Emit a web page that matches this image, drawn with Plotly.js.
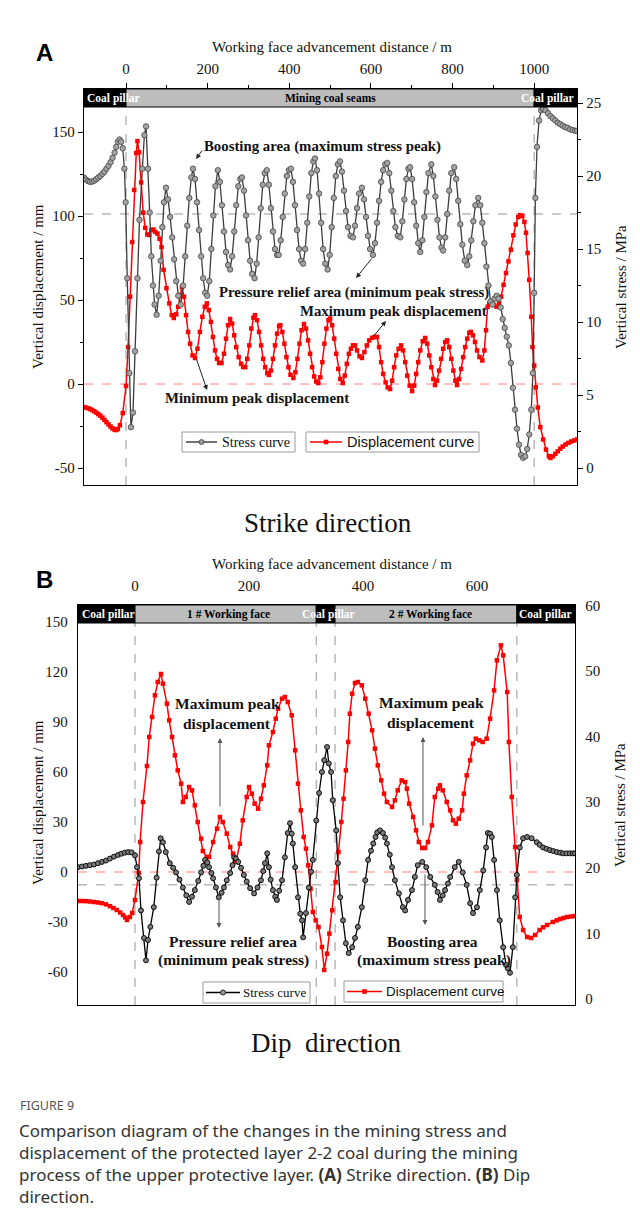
<!DOCTYPE html>
<html>
<head>
<meta charset="utf-8">
<script src="https://cdn.plot.ly/plotly-3.0.1.min.js"></script>
<style>
html,body{margin:0;padding:0;background:#fff;}
#chart{width:640px;height:1221px;}
</style>
</head>
<body>
<div id="chart"></div>
<script>
// ---------------- DATA ----------------
// Panel A (strike direction): [distance m, vertical stress MPa]
const strikeStress = [
[-103,19.9],[-98,19.75],[-93,19.65],[-88,19.6],[-83,19.62],[-78,19.68],[-73,19.78],[-68,19.9],[-63,20.0],[-58,20.15],[-53,20.3],[-48,20.5],[-43,20.7],[-38,20.95],[-33,21.25],[-28,21.6],[-24,22.0],[-20,22.35],[-16,22.5],[-12,22.35],[-8,21.9],[-4,20.5],[-1,18.2],
[3,13.0],[8,6.5],[12,2.8],[17,3.8],[22,8.0],[28,13.0],[33,17.0],[40,20.5],[45,22.8],[49,23.4],[54,20.5],[58,17.5],[62,14.5],[66,12.5],[70,11.2],[75,10.5],[80,11.8],[85,14.2],[89,16.5],[93,18.2],[98,19.2],[103,18.4],[108,17.2],[113,15.8],[118,14.3],[123,12.8],[128,11.8],[134,11.2],[140,12.5],[145,14.5],[150,16.6],[155,18.5],[160,19.9],[164,20.5],[169,19.8],[174,18.2],[179,16.3],[184,14.5],[189,13.0],[194,12.0],[199,11.8],[204,12.8],[209,15.0],[214,17.3],[219,19.3],[225,20.4],[230,19.6],[235,18.0],[240,16.2],[245,14.8],[250,13.9],[255,13.6],[260,14.5],[265,16.2],[270,18.0],[275,19.3],[280,19.8],[284,19.9],[289,19.0],[294,17.3],[299,15.6],[304,14.2],[309,13.3],[315,13.0],[320,14.0],[325,15.8],[330,17.8],[335,19.4],[340,20.2],[345,20.4],[350,19.4],[355,17.8],[360,16.2],[365,15.0],[370,14.6],[374,14.6],[379,15.6],[384,17.2],[389,18.8],[394,20.0],[399,20.4],[404,20.5],[409,19.6],[414,18.0],[419,16.3],[424,15.0],[429,14.2],[434,14.0],[439,15.0],[444,16.8],[449,18.6],[454,20.2],[459,21.0],[463,21.2],[468,20.4],[473,18.8],[478,16.8],[483,15.0],[488,14.0],[494,13.6],[499,14.6],[504,16.5],[509,18.5],[514,20.0],[519,20.8],[524,21.0],[529,20.3],[534,19.0],[539,17.6],[544,16.5],[550,15.9],[556,15.8],[561,16.6],[566,17.8],[571,18.8],[578,19.2],[583,18.4],[588,17.2],[593,15.9],[598,15.0],[605,14.6],[610,15.4],[615,16.8],[620,18.3],[625,19.6],[630,20.4],[635,20.8],[640,20.9],[645,20.2],[650,19.0],[655,17.6],[660,16.5],[666,15.9],[672,15.8],[677,16.9],[682,18.4],[687,19.8],[692,20.5],[696,20.6],[701,19.8],[706,18.2],[711,16.6],[716,15.4],[721,14.8],[726,15.6],[731,17.2],[736,18.9],[741,20.2],[748,20.8],[753,20.0],[758,18.6],[763,17.0],[768,15.8],[773,15.1],[777,14.9],[782,15.8],[787,17.4],[792,19.0],[797,20.2],[804,20.6],[809,19.8],[814,18.3],[819,16.7],[824,15.3],[830,14.2],[836,13.9],[841,14.5],[846,15.6],[851,16.9],[856,18.0],[863,18.5],[868,18.0],[873,16.8],[878,15.4],[883,13.8],[888,12.5],[893,11.4],[898,11.2],[903,11.6],[908,11.8],[913,11.6],[918,11.0],[923,10.2],[928,9.6],[933,9.0],[938,8.4],[943,7.2],[948,5.5],[953,4.0],[958,2.7],[963,1.6],[968,0.9],[973,0.7],[978,0.8],[983,1.3],[988,2.3],[993,4.0],[997,6.5],[1000,12.0],[1003,18.5],[1007,22.0],[1012,23.8],[1017,24.5],[1022,24.6],[1028,24.5],[1034,24.3],[1040,24.1],[1046,23.95],[1052,23.8],[1058,23.65],[1064,23.55],[1070,23.45],[1076,23.35],[1082,23.3],[1088,23.2],[1094,23.15],[1100,23.1],[1105,23.1]
];
// Panel A: [distance m, vertical displacement mm]
const strikeDisp = [
[-103,-13.7],[-98,-14.0],[-93,-14.4],[-88,-14.9],[-83,-15.5],[-78,-16.2],[-73,-17.0],[-68,-17.9],[-63,-18.9],[-58,-20.0],[-53,-21.3],[-48,-22.7],[-43,-24.0],[-38,-25.3],[-33,-26.4],[-28,-27.2],[-24,-27.4],[-20,-26.8],[-15,-24.5],[-8,-17.3],[0,-1.2],[5,22],[10,52],[15,84.5],[20,115.5],[25,137.5],[28,144.6],[32,138],[37,120],[42,102],[47,93],[52,89],[57,88.7],[62,91.5],[67,92],[72,90.5],[77,89.5],[82,86.5],[87,81.5],[92,68],[99,57],[106,48],[112,41],[117,39.3],[123,41.5],[128,46],[133,53],[137,57.7],[142,52],[147,41],[152,31],[157,24],[163,17],[169,15.5],[175,21],[181,31],[187,40],[193,46],[198,48],[203,44],[208,37],[213,28],[218,20],[223,15],[228,12.5],[234,12.5],[240,18],[245,27],[250,35],[255,38.7],[260,36],[265,29],[270,22],[276,16],[282,12],[287,10.2],[292,10],[297,15],[302,23],[307,33],[312,39.5],[316,41],[321,38],[326,31],[331,23],[336,15],[341,10],[346,6.5],[350,5.4],[355,8],[360,15],[365,23],[370,30],[375,34.5],[378,35],[383,31],[388,24],[393,16],[398,10],[403,5.5],[410,3.6],[415,7],[420,15],[425,24],[430,32],[436,35.7],[441,33],[446,26],[451,18],[456,10],[461,4.5],[466,1.5],[471,0.6],[476,4],[481,13],[486,24],[491,33],[496,38],[500,39],[505,35],[510,27],[515,18],[520,9],[525,3],[531,0.6],[536,5],[541,12],[546,18],[551,21],[556,23],[561,23],[566,20],[572,16.5],[578,15.5],[584,19],[590,23],[596,26],[603,27.5],[609,28],[615,28],[620,22],[625,13],[630,6],[636,1],[641,-2],[647,-3],[652,2],[657,10],[662,17],[668,21],[674,23],[679,20],[684,13],[689,5],[695,-1],[701,-4.2],[706,-1],[711,6],[716,13],[721,20],[727,25.5],[733,27.4],[738,24],[743,17],[748,10],[753,3],[757,-0.6],[762,2],[767,8],[772,15],[777,21],[782,25],[787,26],[792,22],[797,15],[802,8],[807,2],[811,-0.6],[816,3],[821,9],[826,16],[831,22],[836,27],[841,30.5],[845,31],[850,29],[855,25],[860,20],[866,16],[873,14],[878,20],[882,32],[886,46],[890,48],[896,48],[902,47],[908,46],[914,48],[919,52],[925,59],[931,66],[937,73],[943,80],[949,88.5],[955,95],[961,99.4],[966,100.5],[971,100],[976,96.5],[980,90],[984,78],[988,62],[993,40],[996,22],[1000,11],[1004,-2],[1009,-14],[1015,-25.6],[1022,-33],[1029,-39],[1036,-43],[1040,-44],[1046,-43],[1052,-41.5],[1058,-40],[1064,-38.5],[1070,-37.2],[1077,-36],[1084,-35],[1091,-34.2],[1098,-33.6],[1105,-33]
];
// Panel B (dip direction): [distance m, vertical stress MPa]
const dipStress = [
[-100,20.1],[-93,20.2],[-86,20.3],[-79,20.4],[-72,20.5],[-65,20.7],[-58,20.9],[-51,21.1],[-44,21.4],[-37,21.7],[-30,21.95],[-24,22.15],[-18,22.3],[-12,22.4],[-6,22.35],[0,21.9],[3.5,20.1],[7,18.4],[10.5,13.5],[15.8,9.3],[19.3,5.9],[22.8,9.0],[27,11],[33,14],[38,18.5],[42,22.5],[45,24.5],[49,23.9],[54,22.4],[61,20.7],[67,20],[72,19.3],[78,18.2],[84,17.0],[90,15.8],[95,14.8],[100,15.6],[105,16.6],[111,18],[116,19.3],[120,20.3],[123,21.2],[127,20.8],[130,20.1],[134,19.2],[137,18.4],[142,17],[147,15.5],[152,16.2],[156,17.0],[161,18.1],[167,19.2],[171,20.4],[174,21.6],[177,21.4],[181,20.9],[186,20],[191,18.9],[196,17.9],[202,16.9],[209,16.1],[215,17],[221,18.1],[225,19.5],[228,20.7],[232,22.2],[235,20.1],[238,18.2],[242,16.6],[246,15.6],[249,15.1],[253,16.5],[258,18.1],[263,21.6],[268,25.3],[272,26.8],[275,25.2],[277,23.7],[281,20.1],[286,15.5],[290,13],[293,12.0],[295,9.4],[300,13.1],[305,17.0],[309,19.4],[312,21.2],[318,27.2],[323,31.4],[328,34.6],[332,36.4],[337,38.4],[340,35.9],[344,34.6],[347,30.3],[353,25.7],[356,20.7],[360,15.5],[365,12.0],[370,8.5],[375,7.0],[381,7.9],[386,9.3],[391,11.0],[398,14.0],[404,18.1],[409,21.2],[414,22.6],[418,23.7],[422,24.7],[425,25.4],[430,25.7],[435,25.3],[439,24.6],[442,23.7],[447,22],[451,20.1],[456,18.1],[463,16.1],[470,14.0],[474,13.5],[479,15.1],[486,16.6],[491,18.6],[496,20.4],[504,20.9],[511,20.1],[518,18.6],[526,17.4],[531,16.3],[535,15.1],[540,15.8],[544,16.6],[549,17.6],[553,18.6],[561,20.1],[568,20.9],[575,19.3],[582,17.4],[588,14.6],[593,13.1],[600,14.0],[605,16.6],[611,19.6],[616,23.1],[619,25.3],[623,25.2],[626,24.7],[630,21.2],[635,16.6],[640,12.0],[646,7.9],[651,5.2],[654,4.7],[658,4.0],[663,7.9],[667,15.5],[670,18.9],[675,23.1],[681,24.5],[688,24.7],[696,24.5],[705,23.9],[710,23.5],[716,23.1],[722,22.9],[728,22.7],[734,22.55],[740,22.4],[746,22.3],[751,22.2],[757,22.2],[763,22.2],[768,22.2],[772,22.2]
];
// Panel B: [distance m, vertical displacement mm]
const dipDisp = [
[-100,-17.4],[-93,-17.4],[-86,-17.5],[-79,-17.7],[-72,-18.0],[-65,-18.3],[-58,-18.7],[-51,-19.4],[-44,-20.5],[-38,-21.6],[-32,-22.8],[-26,-24.3],[-21,-25.8],[-17,-27.3],[-14,-28.8],[-9,-27.0],[-5,-24.6],[0,-16.8],[6.5,-0.6],[9,18],[14,42],[21,63.6],[25,81],[30,93],[35,106],[40,114],[45.6,118.8],[49,113],[56,101],[60,91],[65,81],[70,70],[75,61],[81,53],[84,42],[89,45],[95,51],[100,49],[105,40],[110,30],[116,20],[119,12.6],[126,9],[130,9],[137,18],[144,26],[149,33],[154,30],[161,23],[167,15],[172,11],[177,6],[184,17],[189,31],[196,45],[200,51],[205,47],[210,41],[216,38],[221,44],[226,52],[232,64],[235,76],[242,84],[247,92],[251,98],[258,104],[263,105],[268,102],[275,94],[281,73],[286,53],[291,37],[296,21],[300,14],[304,4],[308,-10],[312,-24],[317,-29],[322,-33],[328,-45],[332,-58.8],[337,-49],[341,-37],[346,-23],[352,-6],[357,12],[362,30],[366,44],[370,61],[374,78],[377,95],[381,107],[386,113.4],[391,114],[398,112],[404,104],[410,95],[416,85],[421,74],[426,64],[432,55],[437,47],[442,42],[451,39],[456,43],[461,49],[468,55],[474,54],[477,50],[481,41],[488,33],[493,25],[498,18],[504,14.4],[509,14.4],[514,18],[521,28],[526,45],[532,50],[535,52],[540,49],[547,42],[553,37],[558,31],[563,29],[568,32],[574,37],[577,47],[582,58],[588,67],[593,77],[598,80],[604,79],[610,78],[617,80],[623,92],[630,109],[635,127],[642,136],[646,130],[653,108],[656,78],[661,45],[667,15],[670,-4.8],[675,-27],[681,-34.8],[688,-39],[695,-39.6],[702,-37.8],[710,-34.8],[716,-33.2],[723,-31.8],[733,-30],[740,-29],[746,-28.2],[752,-27.6],[758,-27],[765,-26.7],[772,-26.4]
];
// Zone boundaries along the working face (m)
const strikeZones = [[-103,0,'pillar'],[0,1000,'seam'],[1000,1105,'pillar']];
const dipZones = [[-100,0,'pillar'],[0,318,'seam'],[318,351,'pillar'],[351,670,'seam'],[670,772,'pillar']];
const strikeBoundaries = [0,1000];
const dipBoundaries = [0,318,351,670];
const originalStress = 17.4;   // MPa, dashed reference
const strikeTicksX = [0,200,400,600,800,1000];
const dipTicksX = [0,200,400,600];
const strikeDispTicks = [-50,0,50,100,150];
const strikeStressTicks = [0,5,10,15,20,25];
const dipDispTicks = [-60,-30,0,30,60,90,120,150];
const dipStressTicks = [0,10,20,30,40,50,60];

// ---------------- LAYOUT HELPERS ----------------
const W=640,H=1221;
const px = v => v/W;
const py = v => 1 - v/H;
const SERIF = '"Liberation Serif","Times New Roman",serif';
const SANS = '"Liberation Sans",Arial,sans-serif';
const lbl = v => String(v);   // plain hyphen-minus labels

const A = {l:84,r:577,t:89,b:485,bandB:107};
const B = {l:78,r:575,t:605,b:1005,bandB:623};

function col(a,i){return a.map(p=>p[i]);}

const traces = [
 {x:col(strikeDisp,0),y:col(strikeDisp,1),xaxis:'x',yaxis:'y',mode:'lines+markers',
  line:{color:'#ff0000',width:1.5},marker:{symbol:'square',size:4.5,color:'#ff0000'},showlegend:false,hoverinfo:'skip'},
 {x:col(strikeStress,0),y:col(strikeStress,1),xaxis:'x',yaxis:'y2',mode:'lines+markers',
  line:{color:'#3d3d3d',width:1.3},marker:{symbol:'circle',size:5.5,color:'#a3a3a3',line:{color:'#444',width:0.8}},showlegend:false,hoverinfo:'skip'},
 {x:col(dipDisp,0),y:col(dipDisp,1),xaxis:'x3',yaxis:'y3',mode:'lines+markers',
  line:{color:'#ff0000',width:1.5},marker:{symbol:'square',size:4.5,color:'#ff0000'},showlegend:false,hoverinfo:'skip'},
 {x:col(dipStress,0),y:col(dipStress,1),xaxis:'x3',yaxis:'y4',mode:'lines+markers',
  line:{color:'#000',width:1.3},marker:{symbol:'circle',size:5,color:'#7a7a7a',line:{color:'#000',width:0.9}},showlegend:false,hoverinfo:'skip'}
];

const tickFont = {family:SERIF,size:15,color:'#111'};
const baseAxis = {showgrid:false,zeroline:false,showline:true,linecolor:'#000',linewidth:1.3,tickfont:tickFont,fixedrange:true,tickmode:'array'};

const layout = {
 width:W,height:H,margin:{l:0,r:0,t:0,b:0},paper_bgcolor:'#fff',plot_bgcolor:'rgba(0,0,0,0)',showlegend:false,
 xaxis:Object.assign({},baseAxis,{domain:[px(A.l),px(A.r)],range:[-103,1105],side:'top',anchor:'y',mirror:true,
   tickvals:strikeTicksX,ticktext:strikeTicksX.map(lbl),ticks:'outside',ticklen:5,tickwidth:1,tickcolor:'#000',ticklabelstandoff:3,
   minor:{tickvals:[100,300,500,700,900],ticks:'outside',ticklen:3,tickcolor:'#000'}}),
 yaxis:Object.assign({},baseAxis,{domain:[py(A.b),py(A.t)],range:[-60.1,175.6],anchor:'x',
   tickvals:strikeDispTicks,ticktext:strikeDispTicks.map(lbl),ticks:'outside',ticklen:5,tickcolor:'#000',
   minor:{tickvals:[-25,25,75,125],ticks:'outside',ticklen:3,tickcolor:'#000'}}),
 yaxis2:Object.assign({},baseAxis,{overlaying:'y',side:'right',anchor:'x',range:[-1.16,25.96],
   tickvals:strikeStressTicks,ticktext:strikeStressTicks.map(lbl),ticks:'outside',ticklen:5,tickcolor:'#000',
   minor:{tickvals:[2.5,7.5,12.5,17.5,22.5],ticks:'outside',ticklen:3,tickcolor:'#000'}}),
 xaxis3:Object.assign({},baseAxis,{domain:[px(B.l),px(B.r)],range:[-100,772],side:'top',anchor:'y3',mirror:true,
   tickvals:dipTicksX,ticktext:dipTicksX.map(lbl),ticks:'outside',ticklen:5,tickcolor:'rgba(0,0,0,0)',ticklabelstandoff:2}),
 yaxis3:Object.assign({},baseAxis,{domain:[py(B.b),py(B.t)],range:[-79.8,160.2],anchor:'x3',
   tickvals:dipDispTicks,ticktext:dipDispTicks.map(lbl),ticks:'outside',ticklen:6,tickcolor:'rgba(0,0,0,0)'}),
 yaxis4:Object.assign({},baseAxis,{overlaying:'y3',side:'right',anchor:'x3',range:[-0.91,60.05],
   tickvals:dipStressTicks,ticktext:dipStressTicks.map(lbl),ticks:'outside',ticklen:6,tickcolor:'rgba(0,0,0,0)'}),
 shapes:[],annotations:[]
};

const S = layout.shapes, N = layout.annotations;

// zone bands
function band(zones,xref,top,bot){
 zones.forEach(z=>{
  S.push({type:'rect',xref:xref,yref:'paper',x0:z[0],x1:z[1],y0:py(bot),y1:py(top),
   fillcolor:z[2]==='pillar'?'#000':'#bdbdbd',line:{color:'#000',width:1},layer:'above'});
 });
}
band(strikeZones,'x',A.t,A.bandB);
band(dipZones,'x3',B.t,B.bandB);

// dashed boundaries
strikeBoundaries.forEach(b=>S.push({type:'line',xref:'x',yref:'paper',x0:b,x1:b,y0:py(A.b),y1:py(A.bandB),line:{color:'#888',width:0.9,dash:'dash'},layer:'below'}));
dipBoundaries.forEach(b=>S.push({type:'line',xref:'x3',yref:'paper',x0:b,x1:b,y0:py(B.b),y1:py(B.bandB),line:{color:'#888',width:0.9,dash:'dash'},layer:'below'}));
S.push({type:'line',xref:'x',yref:'y',x0:-103,x1:1105,y0:0,y1:0,line:{color:'#ff7070',width:0.9,dash:'dash'},layer:'below'});
S.push({type:'line',xref:'x',yref:'y2',x0:-103,x1:1105,y0:originalStress,y1:originalStress,line:{color:'#8a8a8a',width:0.9,dash:'dash'},layer:'below'});
S.push({type:'line',xref:'x3',yref:'y3',x0:-100,x1:772,y0:0,y1:0,line:{color:'#ff7070',width:0.9,dash:'dash'},layer:'below'});
S.push({type:'line',xref:'x3',yref:'y4',x0:-100,x1:772,y0:originalStress,y1:originalStress,line:{color:'#8a8a8a',width:0.9,dash:'dash'},layer:'below'});

// text helper (pixel positions)
function T(text,x,y,opt){
 N.push(Object.assign({text:text,xref:'paper',yref:'paper',x:px(x),y:py(y),showarrow:false,
  xanchor:'center',yanchor:'middle',font:{family:SERIF,size:15,color:'#111'}},opt||{}));
}
const bandFont = (c)=>({family:SERIF,size:11.5,color:c});
// band labels A
T('<b>Coal pillar</b>',85,98,{xanchor:'left',font:bandFont('#fff')});
T('<b>Mining coal seams</b>',330,98,{font:bandFont('#000')});
T('<b>Coal pillar</b>',576,98,{xanchor:'right',font:bandFont('#fff')});
// band labels B
T('<b>Coal pillar</b>',80,614,{xanchor:'left',font:bandFont('#fff')});
T('<b>1 # Working face</b>',228,614,{font:bandFont('#000')});
T('<b>Coal pillar</b>',328,614,{font:bandFont('#fff')});
T('<b>2 # Working face</b>',430,614,{font:bandFont('#000')});
T('<b>Coal pillar</b>',574,614,{xanchor:'right',font:bandFont('#fff')});

// panel letters & titles
T('<b>A</b>',44,52,{font:{family:SANS,size:24,color:'#000'}});
T('<b>B</b>',44,580,{font:{family:SANS,size:24,color:'#000'}});
T('Working face advancement distance / m',332,47);
T('Working face advancement distance / m',332,564);
T('Vertical displacement / mm',38,287,{textangle:-90});
T('Vertical stress / MPa',621,287,{textangle:-90});
T('Vertical displacement / mm',38,803,{textangle:-90});
T('Vertical stress / MPa',620,805,{textangle:-90});
T('Strike direction',328,523,{font:{family:SERIF,size:27,color:'#111'}});
T('Dip\u00a0 direction',326,1043,{font:{family:SERIF,size:27,color:'#111'}});

// in-plot labels A
const lab = {family:SERIF,size:14.8,color:'#111'};
T('<b>Boosting area (maximum stress peak)</b>',322,146,{font:lab});
T('<b>Pressure relief area (minimum peak stress)</b>',354,292,{font:lab});
T('<b>Maximum peak displacement</b>',393,311,{font:lab});
T('<b>Minimum peak displacement</b>',257,398,{font:lab});
// in-plot labels B
const labB = {family:SERIF,size:15.5,color:'#111'};
T('<b>Maximum peak</b>',227,703,{font:labB});
T('<b>displacement</b>',227,723,{font:labB});
T('<b>Maximum peak</b>',431,702,{font:labB});
T('<b>displacement</b>',431,722,{font:labB});
T('<b>Pressure relief area</b>',233,941,{font:labB});
T('<b>(minimum peak stress)</b>',233,960,{font:labB});
T('<b>Boosting area</b>',432,941,{font:labB});
T('<b>(maximum stress peak)</b>',434,960,{font:labB});

// arrows (data coordinates)
function arrow(xr,yr,tx,ty,hx,hy,c){
 N.push({text:'',xref:xr,yref:yr,axref:xr,ayref:yr,x:hx,y:hy,ax:tx,ay:ty,showarrow:true,
  arrowhead:2,arrowsize:1,arrowwidth:1,arrowcolor:c||'#222',standoff:0,startstandoff:0});
}
arrow('x','y',188.7,139.9,171.6,133.9);
arrow('x','y',605,75.6,563.7,63.1);
arrow('x','y',603,27.4,637,37.5);
arrow('x','y',171.6,15.5,198.5,-3.6);
arrow('x3','y3',149.1,38.4,149.1,80.4,'#555');
arrow('x3','y3',505.3,27,505.3,81,'#555');
arrow('x3','y3',147.4,-15,147.4,-33.6,'#555');
arrow('x3','y3',508.8,-0.6,508.8,-31.8,'#555');

// legends (manual boxes)
function legend(x0,x1,y0,y1,lx0,lx1,sym,color,text,font,tx){
 S.push({type:'rect',xref:'paper',yref:'paper',x0:px(x0),x1:px(x1),y0:py(y1),y1:py(y0),line:{color:'#9a9a9a',width:1},fillcolor:'#fff',layer:'above'});
 const ym=(y0+y1)/2, xm=(lx0+lx1)/2;
 S.push({type:'line',xref:'paper',yref:'paper',x0:px(lx0),x1:px(lx1),y0:py(ym),y1:py(ym),line:{color:color,width:1.5},layer:'above'});
 if(sym==='circle'){
  S.push({type:'circle',xref:'paper',yref:'paper',x0:px(xm-2.5),x1:px(xm+2.5),y0:py(ym+2.5),y1:py(ym-2.5),fillcolor:'#999',line:{color:color,width:0.8},layer:'above'});
 } else {
  S.push({type:'rect',xref:'paper',yref:'paper',x0:px(xm-2.3),x1:px(xm+2.3),y0:py(ym+2.3),y1:py(ym-2.3),fillcolor:color,line:{width:0},layer:'above'});
 }
 T(text,tx,ym,{xanchor:'left',font:font});
}
legend(182,295,432,452,186,217,'circle','#444','Stress curve',{family:SERIF,size:14,color:'#111'},220);
legend(306,479,432,452,310,342,'square','#ff0000','Displacement curve',{family:SANS,size:14.5,color:'#111'},345);
legend(203,310,982,1003,206,240,'circle','#000','Stress curve',{family:SERIF,size:13,color:'#111'},241);
legend(344,503,981,1002,347,382,'square','#ff0000','Displacement curve',{family:SANS,size:13.5,color:'#111'},384);

// caption
const capFont = {family:'"Noto Sans","Open Sans",sans-serif',size:17,color:'#333'};
T('FIGURE 9',18,1105,{xanchor:'left',font:{family:'"Noto Sans",sans-serif',size:12.5,color:'#555'}});
T('Comparison diagram of the changes in the mining stress and',17,1130,{xanchor:'left',font:capFont});
T('displacement of the protected layer 2-2 coal during the mining',17,1152,{xanchor:'left',font:capFont});
T('process of the upper protective layer. <b>(A)</b> Strike direction. <b>(B)</b> Dip',17,1174,{xanchor:'left',font:capFont});
T('direction.',17,1196,{xanchor:'left',font:capFont});

Plotly.newPlot('chart',traces,layout,{staticPlot:true,displayModeBar:false});
</script>
</body>
</html>
